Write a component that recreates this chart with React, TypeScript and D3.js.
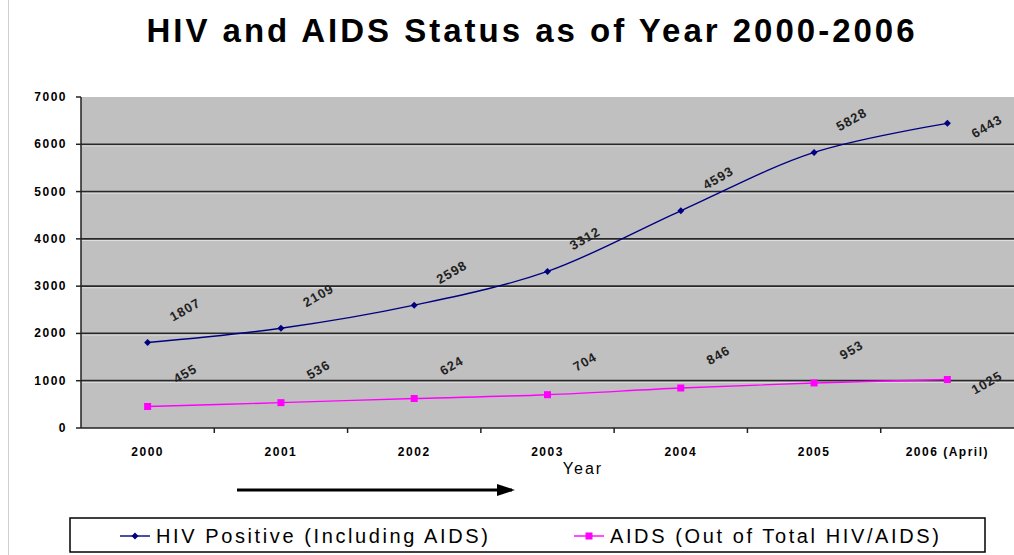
import * as d3 from "d3";
import React from "react";

const years = ["2000", "2001", "2002", "2003", "2004", "2005", "2006 (April)"];
const hivPositive = [1807, 2109, 2598, 3312, 4593, 5828, 6443];
const aidsCases = [455, 536, 624, 704, 846, 953, 1025];
const yTicks = [0, 1000, 2000, 3000, 4000, 5000, 6000, 7000];
const seriesNames = ["HIV Positive (Including AIDS)", "AIDS (Out of Total HIV/AIDS)"];

const App = () => {
  const width = 1014;
  const height = 555;
  const plot = { left: 81, right: 1014, top: 97, bottom: 428 };

  const x = d3.scaleBand().domain(years).range([plot.left, plot.right]);
  const y = d3.scaleLinear().domain([0, 7000]).range([plot.bottom, plot.top]);
  const cx = (i: number) => (x(years[i]) as number) + x.bandwidth() / 2;

  const line = d3
    .line<number>()
    .x((_, i) => cx(i))
    .y((d) => y(d))
    .curve(d3.curveCatmullRom.alpha(0.5));

  const font = "Arial, 'Liberation Sans', sans-serif";
  const series = [
    { name: seriesNames[0], values: hivPositive, color: "#000080", marker: "diamond" },
    { name: seriesNames[1], values: aidsCases, color: "#ff00ff", marker: "square" },
  ];

  // labels sit up-right of the point, the last one goes to the right
  const labelPos = (i: number, v: number) => {
    const last = i === years.length - 1;
    return { lx: cx(i) + (last ? 40 : 38), ly: y(v) + (last ? 4 : -32) };
  };

  const marker = (kind: string, px: number, py: number, color: string, key: string) =>
    kind === "diamond" ? (
      <path
        key={key}
        d={`M${px},${py - 3.5}L${px + 3.5},${py}L${px},${py + 3.5}L${px - 3.5},${py}Z`}
        fill={color}
      />
    ) : (
      <rect key={key} x={px - 3.5} y={py - 3.5} width={7} height={7} fill={color} />
    );

  return (
    <div style={{ position: "absolute", left: 0, top: 0 }}>
      <svg width={width} height={height} style={{ display: "block", background: "#fff" }}>
        <line x1={8.5} x2={8.5} y1={0} y2={height} stroke="#d0d0d0" />
        <text
          x={532}
          y={42}
          textAnchor="middle"
          fontFamily={font}
          fontWeight="bold"
          fontSize={33}
          letterSpacing={3}
          fill="#000"
        >
          HIV and AIDS Status as of Year 2000-2006
        </text>

        <rect
          x={plot.left}
          y={plot.top}
          width={plot.right - plot.left}
          height={plot.bottom - plot.top}
          fill="#c0c0c0"
        />
        {yTicks.slice(1, -1).map((t) => (
          <g key={t}>
            <line x1={plot.left} x2={plot.right} y1={y(t)} y2={y(t)} stroke="#282828" strokeWidth={1.8} />
            <line x1={plot.left} x2={plot.right} y1={y(t) + 1.6} y2={y(t) + 1.6} stroke="#e0e0e0" strokeWidth={1} />
          </g>
        ))}
        <line x1={plot.left} x2={plot.right} y1={plot.bottom} y2={plot.bottom} stroke="#222" strokeWidth={1.5} />
        <line x1={plot.left} x2={plot.left} y1={plot.top} y2={plot.bottom} stroke="#222" strokeWidth={1.5} />

        {yTicks.map((t) => (
          <g key={t}>
            <line x1={plot.left - 5} x2={plot.left} y1={y(t)} y2={y(t)} stroke="#222" strokeWidth={1.5} />
            <text
              x={plot.left - 14}
              y={y(t) + 4}
              textAnchor="end"
              fontFamily={font}
              fontWeight="bold"
              fontSize={12}
              letterSpacing={1.5}
              fill="#000"
            >
              {t}
            </text>
          </g>
        ))}

        {years.map((yr, i) => (
          <g key={yr}>
            {i > 0 && (
              <line
                x1={x(yr) as number}
                x2={x(yr) as number}
                y1={plot.bottom}
                y2={plot.bottom + 5}
                stroke="#222"
                strokeWidth={1.5}
              />
            )}
            <text
              x={cx(i)}
              y={456}
              textAnchor="middle"
              fontFamily={font}
              fontWeight="bold"
              fontSize={12}
              letterSpacing={1.5}
              fill="#000"
            >
              {yr}
            </text>
          </g>
        ))}
        <text x={583} y={474} textAnchor="middle" fontFamily={font} fontSize={16} letterSpacing={2} fill="#000">
          Year
        </text>

        <defs>
          <marker id="arrowhead" markerWidth="6" markerHeight="6" refX="5" refY="3" orient="auto" markerUnits="strokeWidth">
            <path d="M0,1L6,3L0,5Z" fill="#000" />
          </marker>
        </defs>
        <line x1={237} x2={512} y1={490} y2={490} stroke="#000" strokeWidth={3} markerEnd="url(#arrowhead)" />

        {series.map((s) => (
          <g key={s.name}>
            <path d={line(s.values) as string} fill="none" stroke={s.color} strokeWidth={1.4} />
            {s.values.map((v, i) => marker(s.marker, cx(i), y(v), s.color, `${s.name}-${i}`))}
            {s.values.map((v, i) => {
              const { lx, ly } = labelPos(i, v);
              return (
                <text
                  key={`l-${s.name}-${i}`}
                  x={lx}
                  y={ly}
                  textAnchor="middle"
                  dominantBaseline="middle"
                  transform={`rotate(-30, ${lx}, ${ly})`}
                  fontFamily={font}
                  fontWeight="bold"
                  fontSize={13}
                  letterSpacing={1}
                  fill="#222"
                >
                  {v}
                </text>
              );
            })}
          </g>
        ))}

        <rect x={70} y={518} width={915} height={34} fill="#fff" stroke="#000" strokeWidth={1.5} />
        {series.map((s, k) => {
          const lx0 = k === 0 ? 120 : 574;
          return (
            <g key={`leg-${s.name}`}>
              <line x1={lx0} x2={lx0 + 30} y1={536} y2={536} stroke={s.color} strokeWidth={1.4} />
              {marker(s.marker, lx0 + 15, 536, s.color, `lm-${k}`)}
              <text x={lx0 + 36} y={543} fontFamily={font} fontSize={20} letterSpacing={2.6} fill="#000">
                {s.name}
              </text>
            </g>
          );
        })}
      </svg>
    </div>
  );
};

export default App;
